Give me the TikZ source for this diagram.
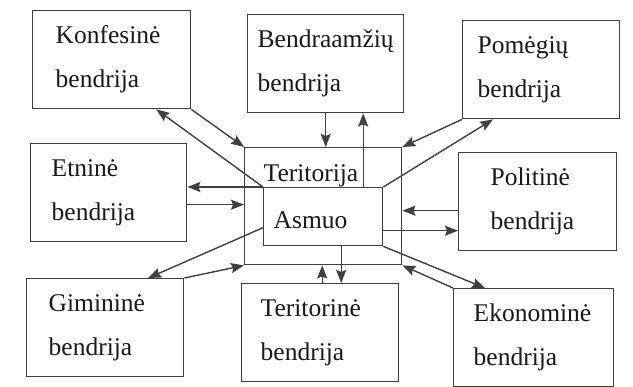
\documentclass[tikz,border=0pt]{standalone}
\usepackage{fontspec}
\setmainfont{Liberation Serif}
\newfontfamily\bendrfont{Liberation Serif}
\usetikzlibrary{arrows.meta}

\begin{document}
\begin{tikzpicture}[x=1pt,y=-1pt,line width=1.4pt,draw=black!75,>={Stealth[length=13pt,width=10pt,inset=2pt]},
  every node/.style={font=\bendrfont\fontsize{25.5}{44}\selectfont,text=black!90},
  bendr/.style={draw,anchor=north west,minimum height=98pt,inner ysep=0pt,align=left,text width=#1}]
\useasboundingbox (0,0) rectangle (633,387);
% communities round the territory
\node[bendr=112pt,inner xsep=23pt] (konf) at (32,10) {Konfesinė\\bendrija};
\node[bendr=136pt,inner xsep=10pt] (bamz) at (247,14) {Bendraamžių\\bendrija};
\node[bendr=127pt,inner xsep=15pt] (pomeg) at (462,20) {Pomėgių\\bendrija};
\node[bendr=114pt,inner xsep=21pt] (etn) at (30,143) {Etninė\\bendrija};
\node[bendr=94pt,inner xsep=32pt] (polit) at (458,152) {Politinė\\bendrija};
\node[bendr=113pt,inner xsep=22pt] (gimin) at (26,278) {Gimininė\\bendrija};
\node[bendr=119pt,inner xsep=19pt] (terit) at (241,283) {Teritorinė\\bendrija};
\node[bendr=120pt,inner xsep=20pt] (ekon) at (453,288) {Ekonominė\\bendrija};
% territory frame with the person inside
\node[draw,anchor=north west,minimum width=157pt,minimum height=117pt,inner sep=0pt] (terija) at (244,147) {};
\node[anchor=base west,inner sep=0pt] (terlbl) at (263,182) {Teritorija};
\node[draw,fill=white,anchor=north west,minimum width=119pt,minimum height=58pt,inner xsep=10pt,
  text width=99pt,text height=24pt,align=left] (asmuo) at (263,187) {Asmuo};
% upper left
\draw[->] (asmuo.north west) -- ([xshift=-35pt]konf.south east);
\draw[->] (konf.south east) -- (terija.north west);
% top
\draw[->] (bamz.south) -- (bamz.south |- terija.north);
\draw[->] ([xshift=40pt]asmuo.north) -- ([xshift=40pt]asmuo.north |- bamz.south);
% upper right
\draw[->] (asmuo.north east) -- ([xshift=31pt]pomeg.south west);
\draw[->] (pomeg.south west) -- (terija.north east);
% left
\draw[->] (asmuo.north west) -- (asmuo.north west -| etn.east);
\draw[->] ([yshift=-12pt]etn.east) -- ([yshift=-12pt]etn.east -| terija.west);
% right
\draw[->] ([yshift=-9pt]polit.west) -- ([yshift=-9pt]polit.west -| terija.east);
\draw[->] ([yshift=-14pt]asmuo.east) -- ([yshift=-14pt]asmuo.east -| polit.west);
% lower left
\draw[->] ([yshift=-11pt]asmuo.west) -- ([xshift=43pt]gimin.north);
\draw[->] (gimin.north east) -- (terija.south west);
% bottom
\draw[->] ([xshift=2pt]terit.north) -- ([xshift=2pt]terit.north |- terija.south);
\draw[->] ([xshift=18pt]asmuo.south) -- ([xshift=18pt]asmuo.south |- terit.north);
% lower right
\draw[->] (asmuo.south east) -- ([xshift=32pt]ekon.north west);
\draw[->] (ekon.north west) -- (terija.south east);
\end{tikzpicture}
\end{document}
